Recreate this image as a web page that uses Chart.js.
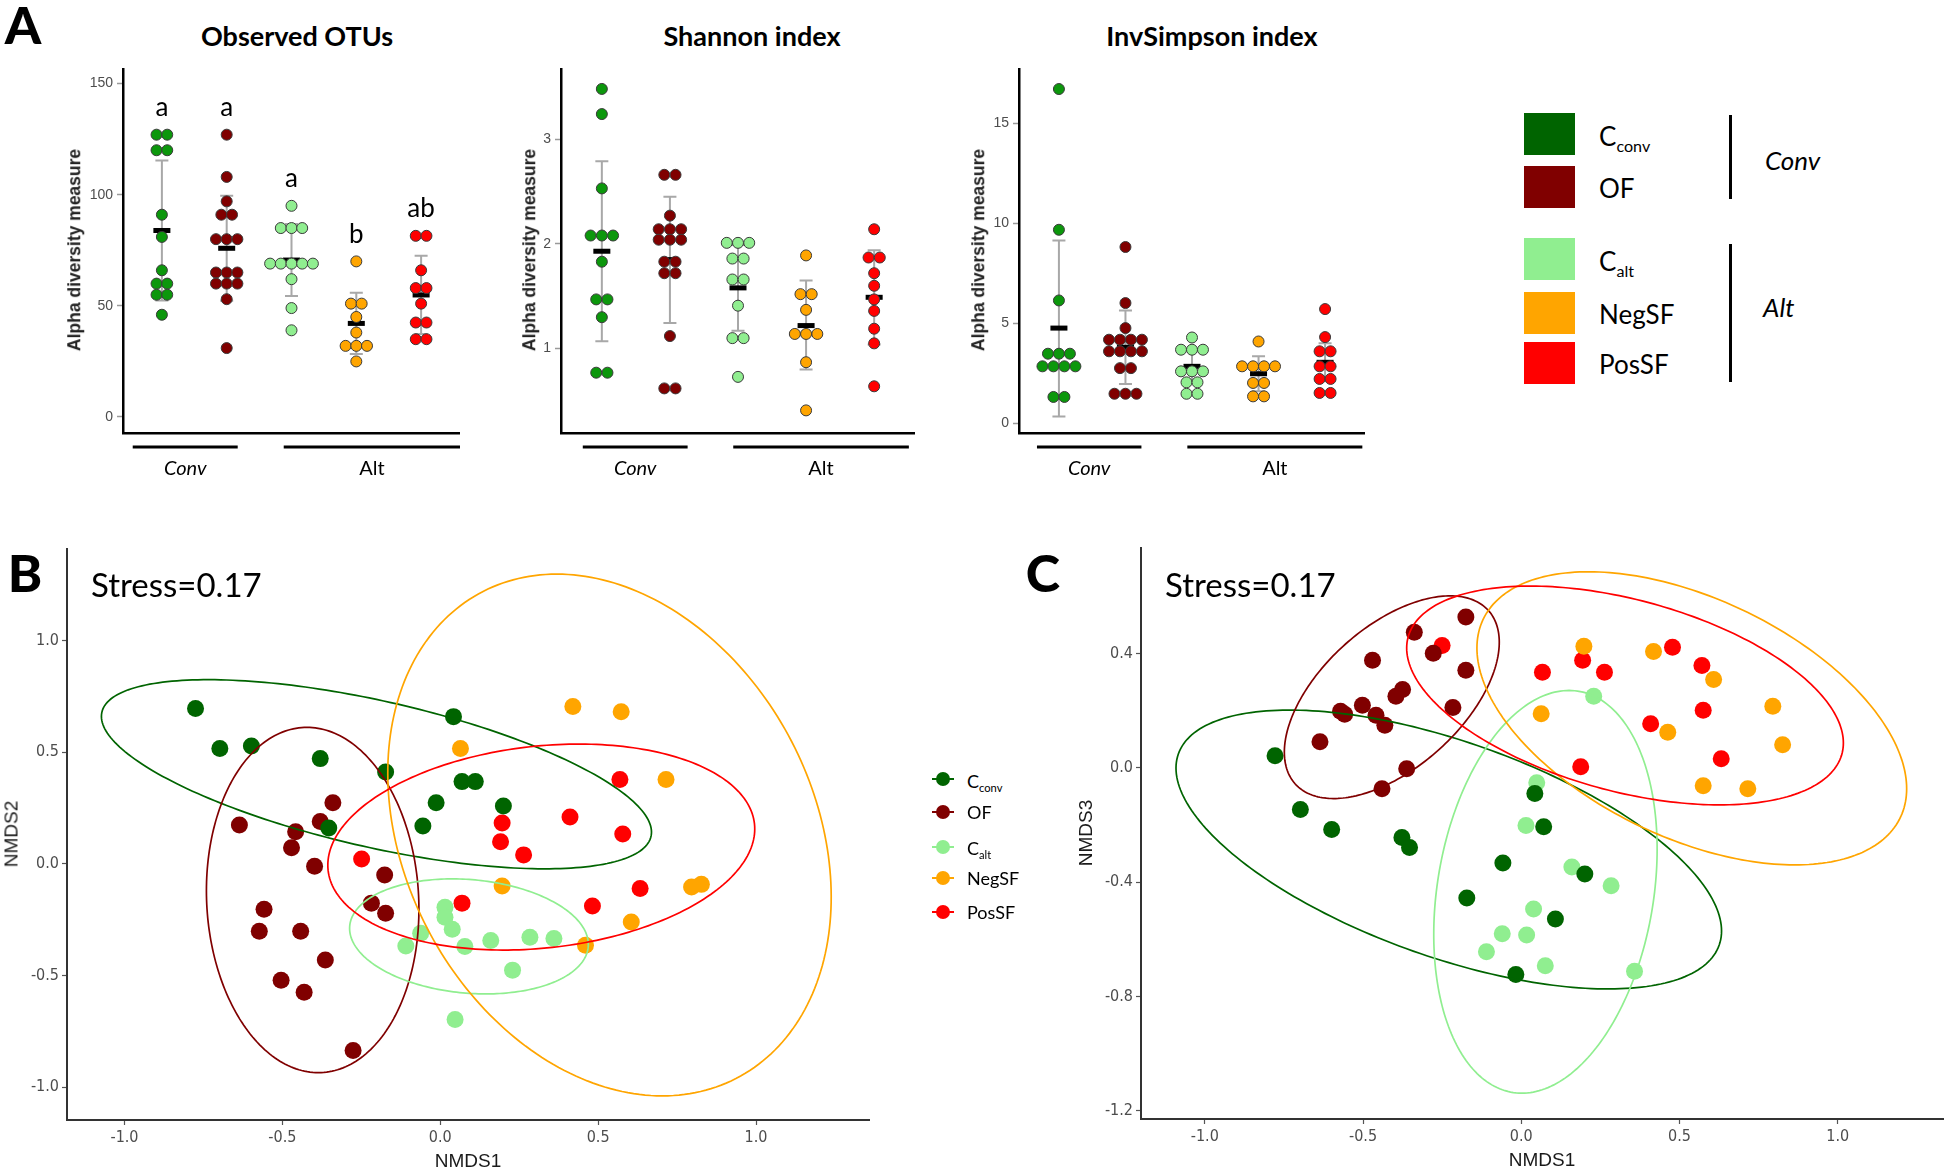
<!DOCTYPE html>
<html>
<head>
<meta charset="utf-8">
<script src="https://cdn.jsdelivr.net/npm/chart.js@4.4.1/dist/chart.umd.min.js"></script>
<style>
  body { margin: 0; background: #fff; width: 1946px; height: 1169px; position: relative; overflow: hidden; }
  canvas { position: absolute; }
  .t { position: absolute; white-space: nowrap; line-height: 1; transform: translate(-50%, -50%); color: #000; }
  .l { position: absolute; white-space: nowrap; line-height: 1; transform: translateY(-50%); color: #000; }
  .rot { transform: translate(-50%, -50%) rotate(-90deg); }
  .cal { font-family: Lato, 'Open Sans', sans-serif; }
  .panel { font-family: Lato, sans-serif; font-weight: 900; font-size: 52px; }
  .title { font-family: Lato, sans-serif; font-weight: 700; font-size: 27px; }
  .ytitle { font-family: 'Liberation Sans', Arial, sans-serif; font-weight: 700; font-size: 17.5px; color: #222; }
  .axt { font-family: 'Liberation Sans', Arial, sans-serif; font-size: 19px; color: #1a1a1a; }
  .sq { position: absolute; left: 1524px; width: 51px; height: 42px; }
  .vl { position: absolute; left: 1729px; width: 2.5px; background: #000; }
  sub { font-size: 62%; vertical-align: -0.35em; line-height: 0; }
  .mkl { position: absolute; width: 22px; height: 2px; left: 932px; }
  .mkc { position: absolute; width: 14px; height: 14px; border-radius: 50%; left: 936px; }
</style>
</head>
<body>
<canvas id="obs"></canvas>
<canvas id="sha"></canvas>
<canvas id="inv"></canvas>
<canvas id="nmdsB"></canvas>
<canvas id="nmdsC"></canvas>

<div class="t panel" style="left:23px;top:24px">A</div>
<div class="t title" style="left:297px;top:35px">Observed OTUs</div>
<div class="t title" style="left:752px;top:35px">Shannon index</div>
<div class="t title" style="left:1212px;top:35px">InvSimpson index</div>
<div class="t ytitle rot" style="left:75px;top:250px">Alpha diversity measure</div>
<div class="t ytitle rot" style="left:530px;top:250px">Alpha diversity measure</div>
<div class="t ytitle rot" style="left:979px;top:250px">Alpha diversity measure</div>

<div class="sq" style="top:113px;background:#006400"></div>
<div class="sq" style="top:166px;background:#800000"></div>
<div class="sq" style="top:238px;background:#90ee90"></div>
<div class="sq" style="top:292px;background:#ffa500"></div>
<div class="sq" style="top:342px;background:#ff0000"></div>
<div class="l cal" style="left:1599px;top:136px;font-size:26px">C<sub>conv</sub></div>
<div class="l cal" style="left:1599px;top:188px;font-size:26px">OF</div>
<div class="l cal" style="left:1599px;top:261px;font-size:26px">C<sub>alt</sub></div>
<div class="l cal" style="left:1599px;top:314px;font-size:26px">NegSF</div>
<div class="l cal" style="left:1599px;top:364px;font-size:26px">PosSF</div>
<div class="vl" style="top:115px;height:84px"></div>
<div class="vl" style="top:244px;height:138px"></div>
<div class="l cal" style="left:1765px;top:160px;font-size:26px;font-style:italic">Conv</div>
<div class="l cal" style="left:1763px;top:307px;font-size:26px;font-style:italic">Alt</div>

<div class="t panel" style="left:25px;top:572px">B</div>
<div class="t panel" style="left:1043px;top:572px">C</div>
<div class="l cal" style="left:91px;top:584px;font-size:33px">Stress=0.17</div>
<div class="l cal" style="left:1165px;top:584px;font-size:33px">Stress=0.17</div>
<div class="t axt" style="left:468px;top:1160px">NMDS1</div>
<div class="t axt rot" style="left:11px;top:834px">NMDS2</div>
<div class="t axt" style="left:1542px;top:1159px">NMDS1</div>
<div class="t axt rot" style="left:1085px;top:833px">NMDS3</div>

<div class="mkl" style="top:778px;background:#006400"></div><div class="mkc" style="top:772px;background:#006400"></div>
<div class="mkl" style="top:811px;background:#800000"></div><div class="mkc" style="top:805px;background:#800000"></div>
<div class="mkl" style="top:846px;background:#90ee90"></div><div class="mkc" style="top:840px;background:#90ee90"></div>
<div class="mkl" style="top:877px;background:#ffa500"></div><div class="mkc" style="top:871px;background:#ffa500"></div>
<div class="mkl" style="top:911px;background:#ff0000"></div><div class="mkc" style="top:905px;background:#ff0000"></div>
<div class="l cal" style="left:967px;top:781px;font-size:18px">C<sub>conv</sub></div>
<div class="l cal" style="left:967px;top:812px;font-size:18px">OF</div>
<div class="l cal" style="left:967px;top:848px;font-size:18px">C<sub>alt</sub></div>
<div class="l cal" style="left:967px;top:878px;font-size:18px">NegSF</div>
<div class="l cal" style="left:967px;top:912px;font-size:18px">PosSF</div>

<script>
// groups and colours
const groups = ['Cconv', 'OF', 'Calt', 'NegSF', 'PosSF'];
const dotColors = ['#0c970c', '#800000', '#90ee90', '#ffa500', '#ff0000'];
const groupColors = ['#006400', '#800000', '#90ee90', '#ffa500', '#ff0000'];

// Observed OTUs
const obsCconv = [127, 127, 120, 120, 91, 81, 66, 60, 60, 55, 55, 46];
const obsOF = [127, 108, 97, 91, 91, 80, 80, 80, 65, 65, 65, 60, 60, 60, 53, 31];
const obsCalt = [95, 85, 85, 85, 69, 69, 69, 69, 69, 62, 49, 39];
const obsNegSF = [70, 51, 51, 45, 38, 32, 32, 32, 25];
const obsPosSF = [81.5, 81.5, 66, 58, 58, 51, 42.5, 42.5, 35, 35];
const obsMean = [83.9, 75.9, 70.6, 42.1, 54.9];
const obsLow = [52.4, 52.3, 54.4, 28.3, 37.3];
const obsHigh = [115.4, 99.5, 86.8, 55.9, 72.5];
const obsLetters = ['a', 'a', 'a', 'b', 'ab'];
const obsTicks = [0, 50, 100, 150];

// Shannon index
const shaCconv = [3.48, 3.24, 2.53, 2.08, 2.08, 2.08, 1.83, 1.47, 1.47, 1.30, 0.77, 0.77];
const shaOF = [2.66, 2.66, 2.27, 2.14, 2.14, 2.14, 2.04, 2.04, 2.04, 1.83, 1.83, 1.72, 1.72, 1.12, 0.62, 0.62];
const shaCalt = [2.01, 2.01, 2.01, 1.86, 1.86, 1.66, 1.66, 1.41, 1.10, 1.10, 0.73];
const shaNegSF = [1.89, 1.52, 1.52, 1.37, 1.14, 1.14, 1.14, 0.87, 0.41];
const shaPosSF = [2.14, 1.87, 1.87, 1.72, 1.60, 1.47, 1.36, 1.19, 1.05, 0.64];
const shaMean = [1.93, 1.85, 1.58, 1.22, 1.49];
const shaLow = [1.07, 1.245, 1.17, 0.80, 1.04];
const shaHigh = [2.79, 2.45, 1.99, 1.65, 1.94];
const shaTicks = [1, 2, 3];

// InvSimpson index
const invCconv = [16.7, 9.67, 6.14, 3.48, 3.48, 3.48, 2.85, 2.85, 2.85, 2.85, 1.32, 1.32];
const invOF = [8.81, 6.01, 4.76, 4.18, 4.18, 4.18, 4.18, 3.60, 3.60, 3.60, 3.60, 2.76, 2.76, 1.48, 1.48, 1.48];
const invCalt = [4.29, 3.68, 3.68, 3.68, 2.60, 2.60, 2.60, 2.05, 2.05, 1.48, 1.48];
const invNegSF = [4.09, 2.85, 2.85, 2.85, 2.85, 2.02, 2.02, 1.35, 1.35];
const invPosSF = [5.71, 4.31, 3.60, 3.60, 2.85, 2.85, 2.22, 2.22, 1.52, 1.52];
const invMean = [4.76, 3.8, 2.85, 2.48, 3.05];
const invLow = [0.35, 1.97, 2.0, 1.6, 2.1];
const invHigh = [9.14, 5.64, 3.7, 3.35, 4.0];
const invTicks = [0, 5, 10, 15];

// NMDS1 x NMDS2
const bCconv = [[-0.775, 0.695], [-0.698, 0.516], [-0.598, 0.528], [-0.38, 0.471], [-0.173, 0.411], [0.042, 0.659],
  [0.069, 0.368], [0.111, 0.368], [-0.013, 0.273], [0.2, 0.259], [-0.055, 0.169], [-0.353, 0.16]];
const bOF = [[-0.636, 0.174], [-0.34, 0.273], [-0.38, 0.189], [-0.458, 0.144], [-0.471, 0.072], [-0.398, -0.011],
  [-0.176, -0.05], [-0.558, -0.203], [-0.573, -0.302], [-0.442, -0.302], [-0.218, -0.176], [-0.173, -0.221],
  [-0.364, -0.431], [-0.504, -0.521], [-0.431, -0.575], [-0.276, -0.836]];
const bCalt = [[0.015, -0.194], [0.015, -0.239], [0.038, -0.293], [-0.062, -0.311], [-0.109, -0.368], [0.078, -0.37],
  [0.16, -0.343], [0.284, -0.329], [0.36, -0.334], [0.229, -0.476], [0.047, -0.697]];
const bNegSF = [[0.42, 0.704], [0.573, 0.681], [0.064, 0.516], [0.715, 0.377], [0.196, -0.099], [0.796, -0.104],
  [0.827, -0.092], [0.605, -0.261], [0.46, -0.365]];
const bPosSF = [[0.569, 0.377], [0.411, 0.21], [0.196, 0.183], [0.191, 0.099], [0.578, 0.133], [0.264, 0.04],
  [-0.249, 0.022], [0.633, -0.11], [0.069, -0.176], [0.482, -0.189]];
// ellipses: centre, semi-diameter u, conjugate semi-diameter v
const bEllCentre = [[-0.202, 0.401], [-0.404, -0.162], [0.091, -0.325], [0.536, 0.129], [0.32, 0.075]];
const bEllU = [[0.871, -0.259], [-0.018, 0.773], [0.378, -0.036], [-0.167, 1.168], [0.676, 0.081]];
const bEllV = [[0, 0.335], [0.336, 0], [0, 0.255], [0.682, 0], [0, 0.454]];
const bTicksX = [-1, -0.5, 0, 0.5, 1];
const bTicksY = [-1, -0.5, 0, 0.5, 1];

// NMDS1 x NMDS3
const cCconv = [[-0.778, 0.042], [-0.698, -0.146], [-0.599, -0.216], [-0.377, -0.244], [-0.353, -0.279], [-0.058, -0.333],
  [0.043, -0.09], [0.071, -0.206], [-0.172, -0.456], [0.201, -0.372], [0.108, -0.529], [-0.017, -0.723]];
const cOF = [[-0.175, 0.528], [-0.338, 0.474], [-0.278, 0.401], [-0.175, 0.341], [-0.47, 0.376], [-0.375, 0.274],
  [-0.396, 0.25], [-0.216, 0.211], [-0.502, 0.219], [-0.571, 0.198], [-0.558, 0.187], [-0.459, 0.184],
  [-0.431, 0.149], [-0.636, 0.091], [-0.362, -0.003], [-0.44, -0.073]];
const cCalt = [[0.229, 0.25], [0.049, -0.052], [0.015, -0.202], [0.16, -0.347], [0.284, -0.413], [0.039, -0.494],
  [-0.06, -0.581], [0.017, -0.585], [-0.11, -0.644], [0.076, -0.693], [0.358, -0.712]];
const cNegSF = [[0.198, 0.425], [0.418, 0.407], [0.608, 0.309], [0.795, 0.215], [0.063, 0.189], [0.463, 0.124],
  [0.826, 0.081], [0.575, -0.063], [0.716, -0.073]];
const cPosSF = [[-0.25, 0.428], [0.194, 0.376], [0.067, 0.334], [0.263, 0.334], [0.478, 0.422], [0.571, 0.358],
  [0.575, 0.201], [0.409, 0.154], [0.632, 0.032], [0.188, 0.004]];
const cEllCentre = [[-0.229, -0.286], [-0.409, 0.247], [0.0765, -0.434], [0.539, 0.173], [0.328, 0.253]];
const cEllU = [[0.862, -0.285], [0.3396, 0.1923], [0.0746, 0.7046], [0.679, -0.246], [0.690, -0.166]];
const cEllV = [[0, 0.396], [0, 0.298], [0.345, 0], [0, 0.45], [0, 0.345]];
const cTicksX = [-1, -0.5, 0, 0.5, 1];
const cTicksY = [-1.2, -0.8, -0.4, 0, 0.4];

// spread equal values side by side like a dot plot
function dotPoints(values, gi, step) {
  const counts = {}, seen = {};
  values.forEach(v => counts[v] = (counts[v] || 0) + 1);
  return values.map(v => {
    const k = seen[v] = (seen[v] || 0) + 1;
    return { x: gi + 1 + (k - 1 - (counts[v] - 1) / 2) * step, y: v };
  });
}

function placeCanvas(id, left, top, w, h) {
  const c = document.getElementById(id);
  c.width = w; c.height = h;
  c.style.left = left + 'px'; c.style.top = top + 'px';
  c.style.width = w + 'px'; c.style.height = h + 'px';
  return c;
}

// y tick labels drawn at the library's tick positions
function yLabels(font, gap, decimals) {
  return {
    id: 'yLabels',
    afterDraw(chart) {
      const s = chart.scales.y, ctx = chart.ctx;
      ctx.save();
      ctx.font = font; ctx.fillStyle = '#4d4d4d';
      ctx.textAlign = 'right'; ctx.textBaseline = 'middle';
      s.ticks.forEach(t => ctx.fillText(t.value.toFixed(decimals), s.right - gap, s.getPixelForValue(t.value)));
      ctx.restore();
    }
  };
}

function summaryPlugin(mean, low, high, letters, lines) {
  return {
    id: 'summary',
    beforeDatasetsDraw(chart) {
      const { ctx, scales: { x, y } } = chart;
      ctx.save();
      mean.forEach((m, i) => {
        const px = x.getPixelForValue(i + 1);
        const top = y.getPixelForValue(high[i]), bot = y.getPixelForValue(low[i]);
        ctx.strokeStyle = '#a8a8a8'; ctx.lineWidth = 2;
        ctx.beginPath();
        ctx.moveTo(px, top); ctx.lineTo(px, bot);
        ctx.moveTo(px - 6.5, top); ctx.lineTo(px + 6.5, top);
        ctx.moveTo(px - 6.5, bot); ctx.lineTo(px + 6.5, bot);
        ctx.stroke();
        ctx.fillStyle = '#000';
        ctx.fillRect(px - 8.5, y.getPixelForValue(m) - 2.5, 17, 5);
      });
      ctx.restore();
    },
    afterDraw(chart) {
      const { ctx, scales: { x, y }, chartArea } = chart;
      ctx.save();
      if (letters) {
        ctx.font = '26px Lato'; ctx.fillStyle = '#000';
        ctx.textAlign = 'center'; ctx.textBaseline = 'middle';
        letters.forEach((l, i) => {
          const top = Math.max(...chart.data.datasets[i].data.map(p => p.y));
          ctx.fillText(l, x.getPixelForValue(i + 1), y.getPixelForValue(top) - 27);
        });
      }
      const ly = chartArea.bottom + 14;
      ctx.strokeStyle = '#000'; ctx.lineWidth = 3;
      ctx.fillStyle = '#000';
      ctx.textAlign = 'center'; ctx.textBaseline = 'middle';
      lines.forEach(g => {
        const a = x.getPixelForValue(g.from), b = x.getPixelForValue(g.to);
        ctx.beginPath(); ctx.moveTo(a, ly); ctx.lineTo(b, ly); ctx.stroke();
        ctx.font = (g.italic ? 'italic ' : '') + '20px Lato';
        ctx.fillText(g.label, (a + b) / 2, ly + 22);
      });
      ctx.restore();
    }
  };
}

function alphaChart(id, area, series, mean, low, high, ticks, yMin, yMax, decimals, letters, lines) {
  const yw = 60, xh = 60;
  const canvas = placeCanvas(id, area.left - yw, area.top, area.right - area.left + yw, area.bottom - area.top + xh);
  return new Chart(canvas, {
    type: 'scatter',
    data: {
      datasets: series.map((vals, gi) => ({
        label: groups[gi],
        data: dotPoints(vals, gi, 0.165),
        pointRadius: 5.5,
        pointBackgroundColor: dotColors[gi],
        pointBorderColor: '#3a3a3a',
        pointBorderWidth: 1
      }))
    },
    options: {
      responsive: false, animation: false, events: [],
      layout: { padding: 0, autoPadding: false },
      plugins: { legend: { display: false }, tooltip: { enabled: false } },
      scales: {
        x: {
          type: 'linear', min: 0.4, max: 5.6,
          ticks: { display: false },
          grid: { display: false },
          border: { display: true, color: '#000', width: 2.5 },
          afterFit: s => { s.height = xh; }
        },
        y: {
          type: 'linear', min: yMin, max: yMax,
          afterBuildTicks: s => { s.ticks = ticks.map(v => ({ value: v })); },
          ticks: { display: false },
          grid: { display: true, drawOnChartArea: false, drawTicks: true, tickLength: 6, tickColor: '#9a9a9a', tickWidth: 1.5, color: '#9a9a9a' },
          border: { display: true, color: '#000', width: 2.5 },
          afterFit: s => { s.width = yw; }
        }
      }
    },
    plugins: [summaryPlugin(mean, low, high, letters, lines), yLabels('14px "Liberation Sans", Arial', 10, decimals)]
  });
}

function ellipsePlugin(centres, us, vs) {
  return {
    id: 'ellipses',
    afterDatasetsDraw(chart) {
      const { ctx, scales: { x, y }, chartArea } = chart;
      ctx.save();
      ctx.beginPath();
      ctx.rect(chartArea.left, chartArea.top, chartArea.right - chartArea.left, chartArea.bottom - chartArea.top);
      ctx.clip();
      centres.forEach((c, i) => {
        ctx.beginPath();
        for (let k = 0; k <= 240; k++) {
          const t = k / 240 * Math.PI * 2;
          const dx = c[0] + us[i][0] * Math.cos(t) + vs[i][0] * Math.sin(t);
          const dy = c[1] + us[i][1] * Math.cos(t) + vs[i][1] * Math.sin(t);
          const px = x.getPixelForValue(dx), py = y.getPixelForValue(dy);
          if (k) ctx.lineTo(px, py); else ctx.moveTo(px, py);
        }
        ctx.closePath();
        ctx.strokeStyle = groupColors[i]; ctx.lineWidth = 1.7;
        ctx.stroke();
      });
      ctx.restore();
    }
  };
}

function ordChart(id, area, sets, xRange, yRange, xTicks, yTicks, centres, us, vs) {
  const yw = 60, xh = 45;
  const canvas = placeCanvas(id, area.left - yw, area.top, area.right - area.left + yw, area.bottom - area.top + xh);
  return new Chart(canvas, {
    type: 'scatter',
    data: {
      datasets: sets.map((pts, gi) => ({
        label: groups[gi],
        data: pts.map(p => ({ x: p[0], y: p[1] })),
        pointRadius: 8.5,
        pointBackgroundColor: groupColors[gi],
        pointBorderWidth: 0
      }))
    },
    options: {
      responsive: false, animation: false, events: [],
      layout: { padding: 0, autoPadding: false },
      plugins: { legend: { display: false }, tooltip: { enabled: false } },
      scales: {
        x: {
          type: 'linear', min: xRange[0], max: xRange[1],
          afterBuildTicks: s => { s.ticks = xTicks.map(v => ({ value: v })); },
          ticks: {
            color: '#4d4d4d', padding: 3, maxRotation: 0, autoSkip: false,
            font: { family: '"Liberation Sans Narrow", "DejaVu Sans Condensed", "Liberation Sans"', size: 16 },
            callback: v => v.toFixed(1)
          },
          grid: { display: true, drawOnChartArea: false, drawTicks: true, tickLength: 5, tickColor: '#555', tickWidth: 1.2, color: '#555' },
          border: { display: true, color: '#333', width: 2 },
          afterFit: s => { s.height = xh; }
        },
        y: {
          type: 'linear', min: yRange[0], max: yRange[1],
          afterBuildTicks: s => { s.ticks = yTicks.map(v => ({ value: v })); },
          ticks: { display: false },
          grid: { display: true, drawOnChartArea: false, drawTicks: true, tickLength: 5, tickColor: '#555', tickWidth: 1.2, color: '#555' },
          border: { display: true, color: '#333', width: 2 },
          afterFit: s => { s.width = yw; }
        }
      }
    },
    plugins: [ellipsePlugin(centres, us, vs), yLabels('16px "Liberation Sans Narrow", "DejaVu Sans Condensed", "Liberation Sans"', 8, 1)]
  });
}

alphaChart('obs', { left: 123, right: 460, top: 68, bottom: 433 },
  [obsCconv, obsOF, obsCalt, obsNegSF, obsPosSF], obsMean, obsLow, obsHigh, obsTicks, -7.2, 157, 0, obsLetters,
  [{ from: 0.55, to: 2.17, label: 'Conv', italic: true }, { from: 2.88, to: 5.6, label: 'Alt', italic: false }]);

alphaChart('sha', { left: 561, right: 915, top: 68, bottom: 433 },
  [shaCconv, shaOF, shaCalt, shaNegSF, shaPosSF], shaMean, shaLow, shaHigh, shaTicks, 0.194, 3.68, 0, null,
  [{ from: 0.72, to: 2.26, label: 'Conv', italic: true }, { from: 2.93, to: 5.51, label: 'Alt', italic: false }]);

alphaChart('inv', { left: 1019, right: 1365, top: 68, bottom: 433 },
  [invCconv, invOF, invCalt, invNegSF, invPosSF], invMean, invLow, invHigh, invTicks, -0.48, 17.75, 0, null,
  [{ from: 0.67, to: 2.24, label: 'Conv', italic: true }, { from: 2.93, to: 5.56, label: 'Alt', italic: false }]);

ordChart('nmdsB', { left: 67, right: 870, top: 548, bottom: 1120 },
  [bCconv, bOF, bCalt, bNegSF, bPosSF], [-1.182, 1.361], [-1.147, 1.414], bTicksX, bTicksY, bEllCentre, bEllU, bEllV);

ordChart('nmdsC', { left: 1141, right: 1944, top: 547, bottom: 1119 },
  [cCconv, cOF, cCalt, cNegSF, cPosSF], [-1.2016, 1.336], [-1.229, 0.7726], cTicksX, cTicksY, cEllCentre, cEllU, cEllV);
</script>
</body>
</html>
